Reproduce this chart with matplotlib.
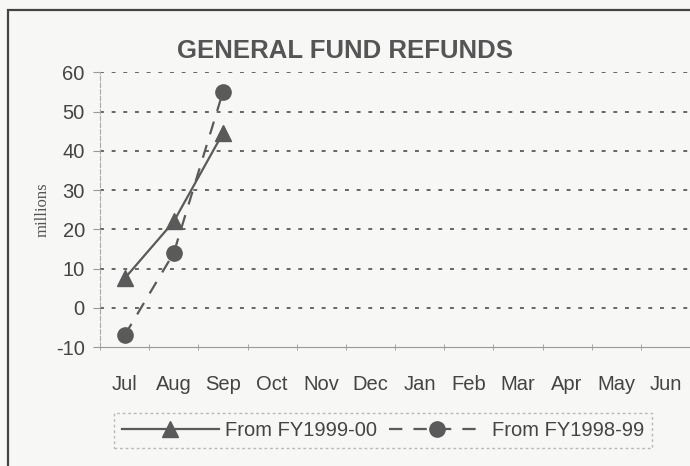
import numpy as np
import matplotlib.pyplot as plt
from matplotlib.patches import Rectangle

months = ['Jul', 'Aug', 'Sep', 'Oct', 'Nov', 'Dec', 'Jan', 'Feb', 'Mar', 'Apr', 'May', 'Jun']
fy1999_00 = [7.5, 22, 44.5]
fy1998_99 = [-7, 14, 55]
yticks = [-10, 0, 10, 20, 30, 40, 50, 60]

gray = '#5a5a5a'
plt.rcParams['font.family'] = ['Liberation Sans', 'DejaVu Sans']
plt.rcParams['axes.unicode_minus'] = False

fig = plt.figure(figsize=(6.9, 4.66), dpi=100)
fig.patch.set_facecolor('#f7f7f5')
ax = fig.add_axes([0.145, 0.255, 0.855, 0.59])
ax.set_facecolor('#f7f7f5')

# outer chart frame
fig.add_artist(Rectangle((8 / 690, -0.05), 1.1, 1 - 10 / 466 + 0.05, transform=fig.transFigure,
                         fill=False, edgecolor='#444444', linewidth=1.6, clip_on=False))

x = np.arange(len(months))
ax.plot(x[:3], fy1999_00, '-^', color=gray, linewidth=1.6, markersize=11,
        label='From FY1999-00')
ax.plot(x[:3], fy1998_99, '--o', color=gray, linewidth=1.6, markersize=11,
        dashes=(6, 5), label='From FY1998-99')

ax.set_xlim(-0.5, 11.5)
ax.set_ylim(-10, 60)
ax.set_xticks(x)
ax.set_xticklabels(months)
ax.set_xticks(np.arange(-0.5, 12, 1), minor=True)
ax.tick_params(axis='x', which='major', length=0, pad=20, labelsize=14.5, labelcolor='#444444')
ax.tick_params(axis='x', which='minor', length=4, direction='inout', color='#999999')
ax.set_yticks(yticks)
ax.tick_params(axis='y', length=5, direction='out', color='#999999', labelsize=14.5,
               labelcolor='#444444', pad=6)

for v in yticks[1:]:
    ax.axhline(v, color='#666666', linestyle=(0, (2, 4)), linewidth=1.4, zorder=0)

for s in ['top', 'right']:
    ax.spines[s].set_visible(False)
ax.spines['left'].set_color('#aaaaaa')
ax.spines['left'].set_linestyle((0, (4, 2)))
ax.spines['bottom'].set_color('#999999')

ax.set_ylabel('millions', family='Liberation Serif', fontsize=12, color='#555555', labelpad=4)
fig.text(0.5, 0.89, 'GENERAL FUND REFUNDS', ha='center', va='center', fontsize=18.5,
         fontweight='bold', color='#555555')

leg = fig.legend(loc='center', bbox_to_anchor=(0.555, 0.077), ncol=2, fontsize=14.5,
                 frameon=True, fancybox=False, handlelength=4.8, columnspacing=0.6,
                 handletextpad=0.3, borderpad=0.4)
leg.get_frame().set_edgecolor('#aaaaaa')
leg.get_frame().set_linestyle((0, (2, 2)))
leg.get_frame().set_facecolor('#f7f7f5')
for t in leg.get_texts():
    t.set_color('#444444')

fig.savefig('out.png', dpi=100, facecolor=fig.get_facecolor())
